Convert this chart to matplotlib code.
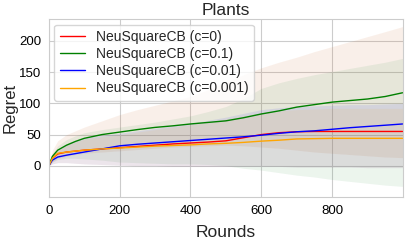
import numpy as np
import matplotlib
matplotlib.use("Agg")
import matplotlib.pyplot as plt
import seaborn as sns

sns.set_style("whitegrid")
plt.rcParams['font.family'] = ['Liberation Sans', 'DejaVu Sans']

rounds = [0, 10, 25, 50, 75, 100, 150, 200, 250, 300, 350, 400, 450, 500,
          550, 600, 650, 700, 750, 800, 850, 900, 950, 999]

labels = ["NeuSquareCB (c=0)", "NeuSquareCB (c=0.1)",
          "NeuSquareCB (c=0.01)", "NeuSquareCB (c=0.001)"]
line_colors = ["red", "green", "blue", "orange"]
band_colors = ["#cd692d", "#2d9141", "blue", "orange"]

mean_c0 = [0, 12, 19, 22, 23.5, 25, 27, 29, 31, 33, 35, 36.5, 38, 40,
           45, 50, 53, 54.5, 55, 55, 55, 55, 55, 55]
mean_c01 = [0, 15, 25, 33, 39, 44, 50, 54, 58, 61.5, 64, 67, 69.5, 72,
            77, 83, 88, 94, 98, 102, 104.5, 107, 111, 117]
mean_c001 = [0, 9, 14, 17, 19.5, 22, 27, 32, 34.5, 36.5, 38.5, 40.5, 42.5, 44.5,
             46.5, 49, 52, 54.5, 56, 58.5, 61, 63, 65, 67]
mean_c0001 = [0, 12, 20, 22, 23.5, 25, 27, 28.5, 30, 31.5, 32.5, 33.5, 35, 36,
              37.5, 39.5, 41, 43, 43.5, 44, 44, 44, 44, 44]

upper_c0 = [0, 25, 40, 50, 56, 62, 72, 82, 90, 97, 104, 111, 122, 134,
            146, 157, 166, 174, 183, 191, 199, 207, 215, 223]
lower_c0 = [0, 6, 12, 15, 18, 20, 22, 24, 26, 28, 30, 31, 32, 33,
            32, 30, 28, 25, 22, 20, 18, 16, 14, 13]
upper_c01 = [0, 20, 32, 42, 48, 53, 58, 62, 66, 70, 75, 80, 87, 95,
             108, 124, 133, 140, 146, 151, 156, 161, 166, 172]
lower_c01 = [0, 6, 10, 12, 12, 11, 9, 6, 5, 4, 3, 3, 2, 0,
             -4, -7, -11, -15, -18, -22, -25, -28, -31, -33]
upper_c001 = [0, 14, 24, 34, 40, 45, 49, 52, 56, 60, 64, 68, 73, 78,
              84, 90, 93, 95, 96, 97, 98, 98, 99, 100]
lower_c001 = [0, 3, 5, 5, 4, 3, 2, 1, 0, 0, -1, -1, -1, -1,
              -1, -1, -1, -2, -2, -2, -2, -3, -3, -3]
upper_c0001 = [0, 14, 24, 33, 38, 43, 47, 50, 54, 58, 62, 66, 70, 75,
               80, 85, 88, 90, 91, 92, 92, 92, 92, 92]
lower_c0001 = [0, 3, 5, 5, 4, 3, 2, 1, 0, 0, -1, -1, -1, -1,
               -1, -1, -1, -2, -2, -2, -2, -3, -3, -3]

means = [mean_c0, mean_c01, mean_c001, mean_c0001]
uppers = [upper_c0, upper_c01, upper_c001, upper_c0001]
lowers = [lower_c0, lower_c01, lower_c001, lower_c0001]
band_alphas = [0.1, 0.09, 0.08, 0.08]

fig = plt.figure(figsize=(4.07, 2.42), dpi=100)
ax = fig.add_axes([0.12, 0.186, 0.87, 0.735])

x = np.array(rounds)
for u, l, c, a in zip(uppers, lowers, band_colors, band_alphas):
    ax.fill_between(x, l, u, color=c, alpha=a, linewidth=0)
for m, c, lab in zip(means, line_colors, labels):
    ax.plot(x, m, color=c, linewidth=1.0, label=lab)

ax.set_xlim(0, 1000)
ax.set_ylim(-50, 235)
ax.set_xticks([0, 200, 400, 600, 800])
ax.set_yticks([0, 50, 100, 150, 200])
ax.tick_params(axis='both', labelsize=9.5, pad=2, labelcolor='black')
ax.set_title("Plants", fontsize=12.5, pad=3)
ax.set_xlabel("Rounds", fontsize=12.5, labelpad=6)
ax.set_ylabel("Regret", fontsize=12, labelpad=1)
ax.legend(loc="upper left", fontsize=10, frameon=True, handlelength=1.8,
          borderpad=0.4, labelspacing=0.22, borderaxespad=0.4)

fig.savefig("out.png", dpi=100)
